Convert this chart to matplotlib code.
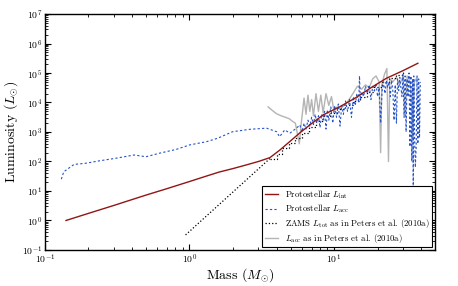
import numpy as np
import matplotlib
matplotlib.use("Agg")
import matplotlib.pyplot as plt

plt.rcParams['font.family'] = 'serif'
plt.rcParams['font.serif'] = ['cmr10', 'DejaVu Serif']
plt.rcParams['mathtext.fontset'] = 'cm'
plt.rcParams['axes.formatter.use_mathtext'] = True

# protostellar internal luminosity (log10 L)
int_mass = [0.14, 0.2, 0.3, 0.5, 0.7, 1.0, 1.3, 1.6, 2.0, 2.5, 3.0, 3.6, 4.2, 4.9,
            5.8, 6.8, 8.4, 11, 14, 18, 23, 30, 38]
int_logl = [0.0, 0.24, 0.51, 0.86, 1.08, 1.32, 1.50, 1.64, 1.76, 1.89, 2.0, 2.13, 2.38, 2.66,
            2.97, 3.24, 3.58, 3.86, 4.15, 4.50, 4.82, 5.08, 5.33]

# protostellar accretion luminosity
acc_mass = [0.13, 0.135, 0.147, 0.159, 0.192, 0.237, 0.31, 0.415, 0.5, 0.62, 0.81, 1.0,
            1.31, 1.57, 1.99, 2.61, 3.41, 4.0, 4.2, 4.56, 4.95, 5.5, 5.8,
            6.0, 6.2, 6.4, 6.6, 6.8, 7.0, 7.2, 7.4, 7.6, 7.8, 8.0, 8.2, 8.4, 8.6, 8.8,
            9.0, 9.2, 9.5, 9.8, 10.1, 10.4, 10.7, 11.0, 11.3, 11.6, 12.0, 12.4, 12.8,
            13.2, 13.6, 14.0, 14.4, 14.8, 15.0, 15.2, 15.6, 16.0, 16.5, 17.0, 17.5,
            18.0, 18.5, 19.0, 19.5, 20.0, 20.5, 21.0, 21.5, 22.0, 22.5, 23.0, 23.5,
            24.0, 24.5, 25.0, 25.5, 26.0, 26.5, 27.0, 27.5, 28.0, 28.5, 29.0, 29.5,
            30.0, 30.5, 31.0, 31.5, 32.0, 32.5, 33.0, 33.5, 34.0, 34.5, 35.0, 35.3,
            35.6, 36.0, 36.5, 37.0, 37.5, 38.0, 38.5, 39.0, 39.5]
acc_logl = [1.40, 1.65, 1.78, 1.90, 1.94, 2.02, 2.11, 2.22, 2.16, 2.28, 2.41, 2.56,
            2.67, 2.79, 3.01, 3.09, 3.13, 3.01, 2.84, 3.07, 2.96, 3.13, 3.24,
            3.0, 3.3, 3.1, 3.4, 3.2, 3.5, 3.25, 3.6, 3.3, 3.55, 3.15, 3.6, 3.4, 3.7, 3.1,
            3.75, 3.4, 3.85, 3.3, 3.9, 3.5, 3.95, 3.2, 3.9, 3.6, 4.05, 3.7, 4.1,
            3.5, 4.2, 3.9, 4.3, 4.0, 4.9, 4.1, 4.35, 4.2, 4.55, 4.3, 4.6,
            4.1, 4.55, 4.4, 4.65, 4.2, 4.5, 3.3, 4.4, 4.7, 4.3, 4.75, 4.5,
            4.7, 4.2, 4.75, 4.4, 3.4, 4.6, 3.3, 4.8, 4.4, 4.85, 4.5, 4.2,
            4.95, 3.5, 4.9, 3.0, 4.8, 4.2, 5.0, 2.5, 4.9, 2.0, 4.8, 0.95,
            4.9, 3.0, 1.8, 2.5, 4.9, 2.6, 4.8, 2.8, 4.7]

# ZAMS total luminosity, Peters et al. (2010a)
zams_mass = [0.94, 3.6]
zams_logl = [-0.49, 2.10]
zams_step_mass = [3.6, 4.0, 4.4, 4.9, 5.4, 6.0, 6.7, 7.5, 8.4, 9.4, 10.5, 12, 13.5,
                  15, 17, 19, 21.5, 24, 27, 30]
zams_step_logl = [2.10, 2.26, 2.45, 2.62, 2.79, 2.97, 3.16, 3.36, 3.53, 3.66, 3.78,
                  3.92, 4.06, 4.20, 4.37, 4.52, 4.68, 4.82, 4.93, 5.02]

# accretion luminosity, Peters et al. (2010a)
pet_mass = [3.5, 3.7, 4.0, 4.3, 4.6, 4.9, 5.2, 5.4, 5.6, 5.75, 5.9, 6.0,
            6.2, 6.4, 6.6, 6.8, 7.0, 7.2, 7.5, 7.8, 8.1, 8.4, 8.8, 9.2, 9.6, 10.0,
            10.5, 11, 11.8, 12.5, 13.5, 14.5, 15.5, 16.5, 17.5, 18.5, 19.5, 20.5,
            21.0, 21.4, 22.3, 23.2, 23.8, 24.3, 25.5, 27, 28.5, 30, 31, 32, 33, 34,
            35, 36, 37]
pet_logl = [3.85, 3.75, 3.62, 3.55, 3.5, 3.45, 3.35, 3.3, 2.9, 2.6, 3.2, 3.5,
            4.15, 3.6, 4.25, 3.7, 4.1, 3.55, 4.3, 3.7, 4.25, 3.65, 4.3, 3.9, 4.2, 3.7,
            3.85, 3.8, 3.9, 4.05, 4.3, 4.55, 4.45, 4.6, 4.5, 4.8, 4.9, 4.7,
            2.3, 4.6, 4.95, 5.15, 2.0, 4.8, 4.7, 4.85, 4.6, 4.9, 3.5, 4.9, 4.8, 4.5,
            2.8, 4.7, 4.8]

fig = plt.figure(figsize=(4.58, 2.86), dpi=100)
ax = fig.add_axes([0.098, 0.126, 0.852, 0.825])

ax.plot(pet_mass, 10 ** np.array(pet_logl), color='#b4b4b4', lw=1.0, zorder=1,
        label=r'$L_{\rm acc}$ as in Peters et al. (2010a)')
ax.plot(zams_mass, 10 ** np.array(zams_logl), color='k', ls=':', lw=0.9, zorder=2,
        label=r'ZAMS $L_{\rm tot}$ as in Peters et al. (2010a)')
ax.step(zams_step_mass, 10 ** np.array(zams_step_logl), where='post', color='k',
        ls=':', lw=0.9, zorder=2)
ax.plot(acc_mass, 10 ** np.array(acc_logl), color='#2452c8', ls=(0, (2, 2)), lw=0.8,
        zorder=3, label=r'Protostellar $L_{\rm acc}$')
ax.plot(int_mass, 10 ** np.array(int_logl), color='#901616', lw=1.0, zorder=4,
        label=r'Protostellar $L_{\rm int}$')

ax.set_xscale('log')
ax.set_yscale('log')
ax.set_xlim(0.1, 50)
ax.set_ylim(0.1, 1e7)
ax.set_xlabel(r'Mass ($M_{\odot}$)', fontsize=10, labelpad=0)
ax.set_ylabel(r'Luminosity ($L_{\odot}$)', fontsize=10, labelpad=1)
ax.tick_params(which='both', direction='in', top=True, right=True, labelsize=7)
ax.tick_params(which='major', length=4, pad=2)
ax.tick_params(which='minor', length=2)
for s in ax.spines.values():
    s.set_linewidth(1.0)

h, l = ax.get_legend_handles_labels()
order = [3, 2, 1, 0]
leg = ax.legend([h[i] for i in order], [l[i] for i in order], loc='lower right',
                fontsize=6.3, fancybox=False, edgecolor='k', framealpha=1,
                borderaxespad=0.3, labelspacing=0.2, borderpad=0.3,
                handlelength=1.5, handletextpad=0.8)
leg.get_frame().set_linewidth(0.8)

fig.savefig('out.png', dpi=100)
